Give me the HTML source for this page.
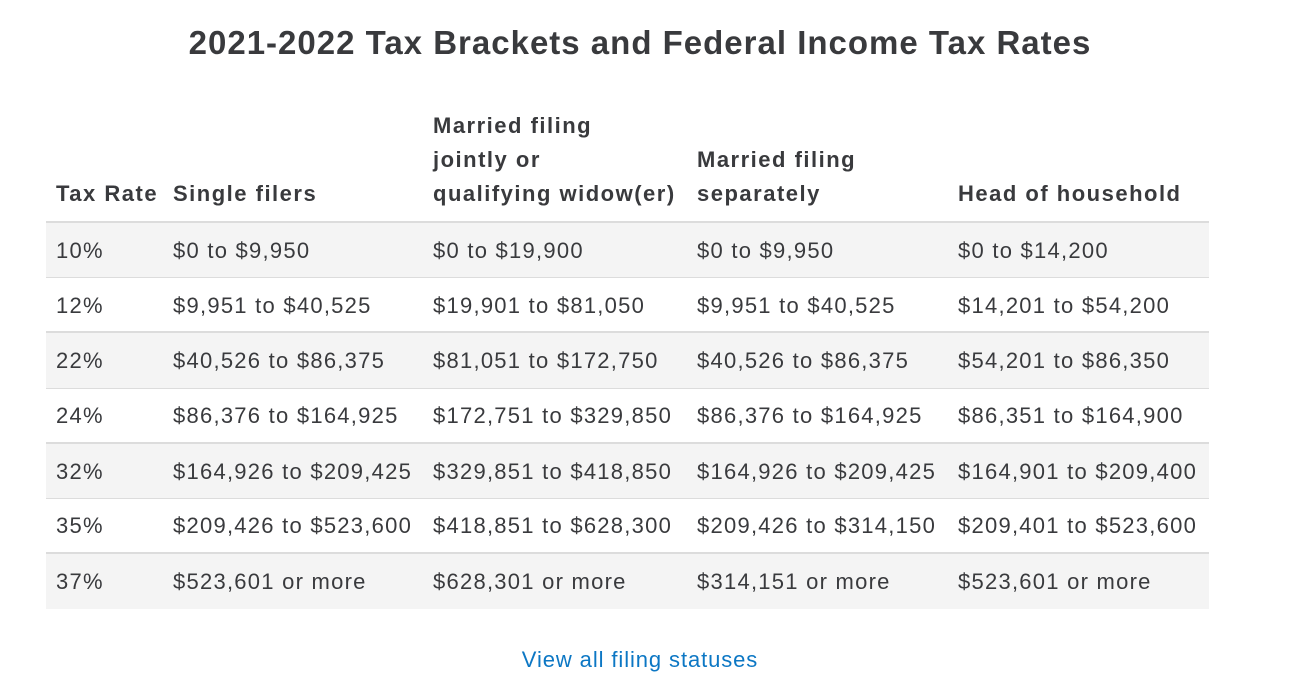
<!DOCTYPE html>
<html><head><meta charset="utf-8"><style>
body{margin:0;width:1302px;height:700px;background:#fff;font-family:"Liberation Sans",sans-serif;color:#393a3d;position:relative;overflow:hidden}
.t{position:absolute;left:0;width:1280px;text-align:center;top:24px;font-size:33px;font-weight:bold;color:#393a3d;letter-spacing:1px}
.h{position:absolute;font-size:22px;font-weight:bold;line-height:34px;letter-spacing:1.5px}
.row{position:absolute;left:46px;width:1163px;height:55px}
.row span{position:absolute;top:0;line-height:55px;font-size:22px;white-space:nowrap;letter-spacing:1.25px}
.g{background:#f4f4f4}
.line{position:absolute;left:46px;width:1163px;background:#dcdcdc}
.link{position:absolute;top:647px;left:0;width:1280px;text-align:center;font-size:22px;color:#0c77c4;letter-spacing:0.9px}
</style></head><body>
<div class="t">2021-2022 Tax Brackets and Federal Income Tax Rates</div>
<div class="h" style="left:56px;top:177px">Tax Rate</div>
<div class="h" style="left:173px;top:177px">Single filers</div>
<div class="h" style="left:433px;top:109px">Married filing<br>jointly or<br>qualifying widow(er)</div>
<div class="h" style="left:697px;top:143px">Married filing<br>separately</div>
<div class="h" style="left:958px;top:177px">Head of household</div>

<div class="row g" style="top:223px"><span style="left:10px">10%</span><span style="left:127px">$0 to $9,950</span><span style="left:387px">$0 to $19,900</span><span style="left:651px">$0 to $9,950</span><span style="left:912px">$0 to $14,200</span></div>
<div class="row" style="top:278px"><span style="left:10px">12%</span><span style="left:127px">$9,951 to $40,525</span><span style="left:387px">$19,901 to $81,050</span><span style="left:651px">$9,951 to $40,525</span><span style="left:912px">$14,201 to $54,200</span></div>
<div class="row g" style="top:333px"><span style="left:10px">22%</span><span style="left:127px">$40,526 to $86,375</span><span style="left:387px">$81,051 to $172,750</span><span style="left:651px">$40,526 to $86,375</span><span style="left:912px">$54,201 to $86,350</span></div>
<div class="row" style="top:388px"><span style="left:10px">24%</span><span style="left:127px">$86,376 to $164,925</span><span style="left:387px">$172,751 to $329,850</span><span style="left:651px">$86,376 to $164,925</span><span style="left:912px">$86,351 to $164,900</span></div>
<div class="row g" style="top:444px"><span style="left:10px">32%</span><span style="left:127px">$164,926 to $209,425</span><span style="left:387px">$329,851 to $418,850</span><span style="left:651px">$164,926 to $209,425</span><span style="left:912px">$164,901 to $209,400</span></div>
<div class="row" style="top:498px"><span style="left:10px">35%</span><span style="left:127px">$209,426 to $523,600</span><span style="left:387px">$418,851 to $628,300</span><span style="left:651px">$209,426 to $314,150</span><span style="left:912px">$209,401 to $523,600</span></div>
<div class="row g" style="top:554px"><span style="left:10px">37%</span><span style="left:127px">$523,601 or more</span><span style="left:387px">$628,301 or more</span><span style="left:651px">$314,151 or more</span><span style="left:912px">$523,601 or more</span></div>

<div class="line" style="top:221px;height:2px"></div>
<div class="line" style="top:277px;height:1px"></div>
<div class="line" style="top:331px;height:2px"></div>
<div class="line" style="top:388px;height:1px"></div>
<div class="line" style="top:442px;height:2px"></div>
<div class="line" style="top:498px;height:1px"></div>
<div class="line" style="top:552px;height:2px"></div>

<div class="link">View all filing statuses</div>
</body></html>
